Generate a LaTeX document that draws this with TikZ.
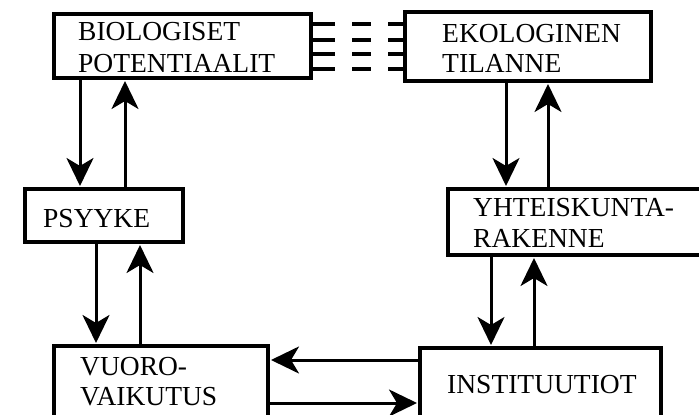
\documentclass[tikz,border=0pt]{standalone}
\usepackage{fontspec}
\setmainfont{Liberation Serif}
\usetikzlibrary{arrows.meta}
\tikzset{
  box/.style={draw, line width=4pt, rectangle, inner sep=0pt, fill=white},
  lbl/.style={anchor=base west, inner sep=0pt, font=\fontsize{27.5}{32}\selectfont},
  arr/.style={line width=3pt, -{Stealth[length=28pt,width=27pt,inset=8pt]}, shorten >=1pt},
  comb/.style={line width=4pt},
}
\begin{document}
\begin{tikzpicture}[x=1pt,y=-1pt]
\useasboundingbox (0,0) rectangle (699,415);
\clip (0,0) rectangle (699,415);
\fill[white] (0,0) rectangle (699,415);
% boxes
\node[box, minimum width=257pt, minimum height=64pt] (bio) at (182.5,46) {};
\node[box, minimum width=246pt, minimum height=69pt] (eko) at (528,46.5) {};
\node[box, minimum width=158pt, minimum height=53pt] (psy) at (104,215.5) {};
\node[box, minimum width=257pt, minimum height=66pt] (yht) at (576.5,222) {};
\node[box, minimum width=214pt, minimum height=79pt] (vuo) at (161,385.5) {};
\node[box, minimum width=241pt, minimum height=77pt] (ins) at (540.5,386.5) {};
% texts
\node[lbl] (t1) at (78,40) {BIOLOGISET};
\node[lbl] (t2) at (78,72) {POTENTIAALIT};
\node[lbl] (t3) at (442,42) {EKOLOGINEN};
\node[lbl] (t4) at (442,72) {TILANNE};
\node[lbl] (t5) at (43,227) {PSYYKE};
\node[lbl] (t6) at (473,216) {YHTEISKUNTA-};
\node[lbl] (t7) at (473,247) {RAKENNE};
\node[lbl] (t8) at (80,375) {VUORO-};
\node[lbl] (t9) at (80,405) {VAIKUTUS};
\node[lbl] (t10) at (447,393) {INSTITUUTIOT};
% comb lines
\foreach \yy in {24,40,54,69}{
  \draw[comb] (311,\yy) -- (335,\yy);
  \draw[comb] (352,\yy) -- (371,\yy);
  \draw[comb] (388,\yy) -- (405,\yy);
}
% helper coordinates
\coordinate (x1) at (80,0);
\coordinate (x2) at (125,0);
\coordinate (x3) at (96,0);
\coordinate (x4) at (140,0);
\coordinate (x5) at (506,0);
\coordinate (x6) at (548,0);
\coordinate (x7) at (491,0);
\coordinate (x8) at (534,0);
\coordinate (y1) at (0,360);
\coordinate (y2) at (0,403);
% connectors
\draw[arr] (bio.south -| x1) -- (psy.north -| x1);
\draw[arr] (psy.north -| x2) -- (bio.south -| x2);
\draw[arr] (psy.south -| x3) -- (vuo.north -| x3);
\draw[arr] (vuo.north -| x4) -- (psy.south -| x4);
\draw[arr] (eko.south -| x5) -- (yht.north -| x5);
\draw[arr] (yht.north -| x6) -- (eko.south -| x6);
\draw[arr] (yht.south -| x7) -- (ins.north -| x7);
\draw[arr] (ins.north -| x8) -- (yht.south -| x8);
\draw[arr] (ins.west |- y1) -- (vuo.east |- y1);
\draw[arr] (vuo.east |- y2) -- (ins.west |- y2);
\end{tikzpicture}
\end{document}
